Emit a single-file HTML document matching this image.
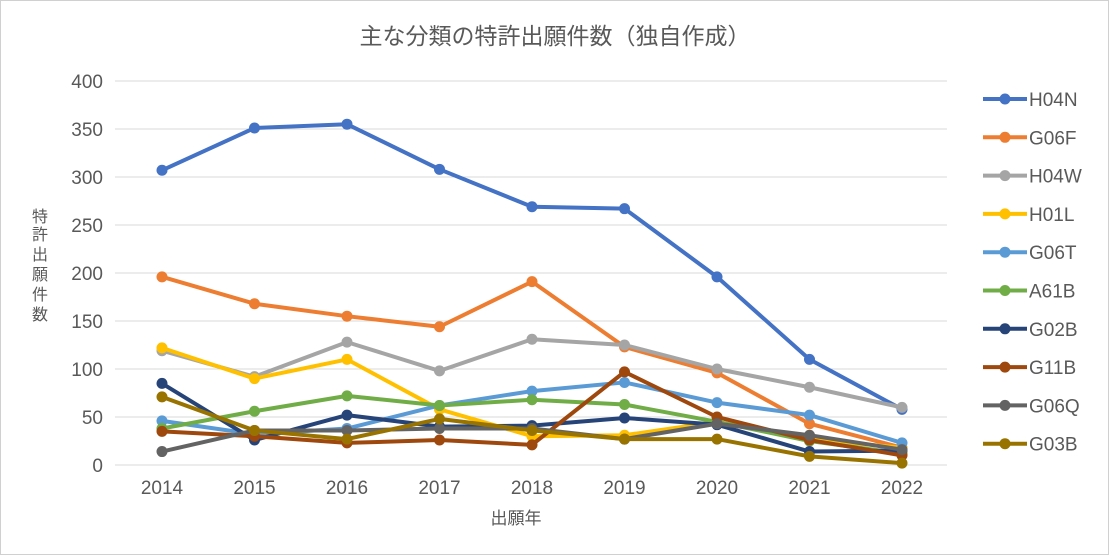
<!DOCTYPE html>
<html><head><meta charset="utf-8"><style>
body{margin:0;background:#fff}
svg{display:block;font-family:"Liberation Sans","Noto Sans CJK JP",sans-serif}
</style></head><body>
<svg id="c" width="1109" height="555">
<rect x="0.5" y="0.5" width="1108" height="554" fill="#fff" stroke="#d0d0d0"/>
<text x="555" y="44" text-anchor="middle" font-size="23" fill="#595959">主な分類の特許出願件数（独自作成）</text>
<text x="516" y="524" text-anchor="middle" font-size="17" fill="#595959">出願年</text>
<text font-size="16" fill="#595959"><tspan x="32" y="222">特</tspan><tspan x="32" y="240">許</tspan><tspan x="32" y="260">出</tspan><tspan x="32" y="280">願</tspan><tspan x="32" y="300">件</tspan><tspan x="32" y="320">数</tspan></text>
<g id="grid"></g><g id="lines"></g><g id="legend"></g>
</svg>
<script>
const years=["2014","2015","2016","2017","2018","2019","2020","2021","2022"];
const yTicks=[0,50,100,150,200,250,300,350,400];
const seriesNames=["H04N","G06F","H04W","H01L","G06T","A61B","G02B","G11B","G06Q","G03B"];
const colors=["#4472c4","#ed7d31","#a5a5a5","#ffc000","#5b9bd5","#70ad47","#264478","#9e480e","#636363","#997300"];
const H04N=[307,351,355,308,269,267,196,110,58];
const G06F=[196,168,155,144,191,123,96,43,18];
const H04W=[119,92,128,98,131,125,100,81,60];
const H01L=[122,90,110,58,30,31,45,27,18];
const G06T=[46,32,38,62,77,86,65,52,23];
const A61B=[38,56,72,62,68,63,45,25,12];
const G02B=[85,26,52,40,41,49,42,14,15];
const G11B=[35,30,23,26,21,97,50,26,10];
const G06Q=[14,36,36,38,38,27,43,31,16];
const G03B=[71,36,27,48,36,27,27,9,2];
const seriesValues=[H04N,G06F,H04W,H01L,G06T,A61B,G02B,G11B,G06Q,G03B];
const NS="http://www.w3.org/2000/svg";
const x=i=>162+i*92.5;
const y=v=>465-v*0.96;
function mk(tag,attrs,parent){const e=document.createElementNS(NS,tag);for(const k in attrs)e.setAttribute(k,attrs[k]);parent.appendChild(e);return e;}
const grid=document.getElementById('grid'),lines=document.getElementById('lines'),legend=document.getElementById('legend');
yTicks.forEach(t=>{
  const l=mk('line',{x1:115,x2:947,y1:y(t),y2:y(t),stroke:'#d9d9d9','stroke-width':1},grid);
  
  
  const tx=mk('text',{x:103,y:y(t)+7,'text-anchor':'end','font-size':19,fill:'#595959'},grid);
  tx.textContent=t;
  
  
});
years.forEach((yr,i)=>{
  const tx=mk('text',{x:x(i),y:494,'text-anchor':'middle','font-size':19,fill:'#595959'},grid);
  tx.textContent=yr;
  
  
});
for(let s=0;s<seriesValues.length;s++){
  const vals=seriesValues[s],c=colors[s];
  const g=mk('g',{},lines);
  
  
  mk('polyline',{points:vals.map((v,i)=>x(i)+','+y(v)).join(' '),fill:'none',stroke:c,'stroke-width':4,'stroke-linejoin':'round'},g);
  vals.forEach((v,i)=>{
    const p=mk('circle',{cx:x(i),cy:y(v),r:5.5,fill:c},g);
    
    
  });
}
seriesNames.forEach((n,s)=>{
  const yy=99+s*38.3;
  const g=mk('g',{},legend);
  
  
  mk('line',{x1:983,x2:1027,y1:yy,y2:yy,stroke:colors[s],'stroke-width':4},g);
  mk('circle',{cx:1005,cy:yy,r:5.5,fill:colors[s]},g);
  const t=mk('text',{x:1029,y:yy+7,'font-size':19,fill:'#595959'},g);
  t.textContent=n;
});
</script>
</body></html>
